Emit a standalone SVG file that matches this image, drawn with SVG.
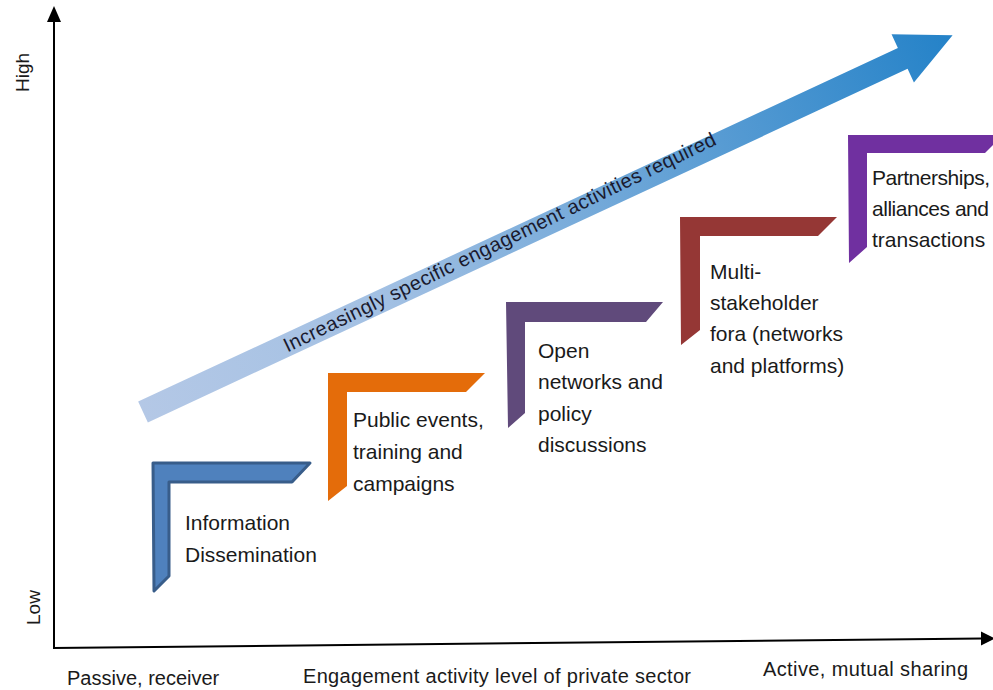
<svg xmlns="http://www.w3.org/2000/svg" width="993" height="690" viewBox="0 0 993 690">
<style>
.lbl{font-family:"Liberation Sans",Arial,sans-serif;font-size:21px;fill:#1a1a1a}
.ax{font-family:"Liberation Sans",Arial,sans-serif;font-size:20px;fill:#1a1a1a}
.axv{font-family:"Liberation Sans",Arial,sans-serif;font-size:19px;fill:#1a1a1a}
.axis{stroke:#000;stroke-width:2;fill:none}
</style>
<defs>
<linearGradient id="g" gradientUnits="userSpaceOnUse" x1="0" y1="0" x2="893" y2="0">
<stop offset="0" stop-color="#b4c8e6"/>
<stop offset="0.3" stop-color="#a2c0e3"/>
<stop offset="1" stop-color="#2482c8"/>
</linearGradient>
</defs>
<rect width="993" height="690" fill="#fff"/>
<g id="axes">
<line class="axis" x1="54" y1="649" x2="54" y2="20"/>
<polygon points="54,6 47,22 61,22" fill="#000"/>
<line class="axis" x1="53" y1="648" x2="982" y2="638.5"/>
<polygon points="995,638.4 981,631.5 981,645.5" fill="#000"/>
<text class="axv" transform="translate(29,92) rotate(-90)">High</text>
<text class="axv" transform="translate(40,625) rotate(-90)">Low</text>
<text class="ax" x="67" y="685">Passive, receiver</text>
<text class="ax" x="303" y="683" textLength="388">Engagement activity level of private sector</text>
<text class="ax" x="763" y="676" textLength="205">Active, mutual sharing</text>
</g>
<g id="trend-arrow" transform="translate(143,412) rotate(-24.96)">
<polygon points="0,-11.5 838,-11.5 838,-26.5 893,0 838,26.5 838,11.5 0,11.5" fill="url(#g)"/>
<text x="156" y="7" font-family="'Liberation Sans',Arial,sans-serif" font-size="20" fill="#1a1a2e" textLength="478" transform="rotate(-0.9 156 7)">Increasingly specific engagement activities required</text>
</g>
<g id="step1">
<polygon points="153,463 310,463 292,482 169,482 169,576 154,591" fill="#4f81bd" stroke="#385d8a" stroke-width="3" stroke-linejoin="round"/>
<text class="lbl" x="185" y="530">Information</text>
<text class="lbl" x="185" y="562">Dissemination</text>
</g>
<g id="step2">
<polygon points="328,373 485,373 466,392 347,392 347,486 328,501" fill="#e46c0a"/>
<text class="lbl" x="353" y="427">Public events,</text>
<text class="lbl" x="353" y="459">training and</text>
<text class="lbl" x="353" y="491">campaigns</text>
</g>
<g id="step3">
<polygon points="506,302 663,302 646,322 525,322 525,413 508,428" fill="#604a7b"/>
<text class="lbl" x="538" y="358">Open</text>
<text class="lbl" x="538" y="389">networks and</text>
<text class="lbl" x="538" y="421">policy</text>
<text class="lbl" x="538" y="452">discussions</text>
</g>
<g id="step4">
<polygon points="680,217 837,217 818,236 700,236 700,330 681,345" fill="#953735"/>
<text class="lbl" x="710" y="279">Multi-</text>
<text class="lbl" x="710" y="310">stakeholder</text>
<text class="lbl" x="710" y="341">fora (networks</text>
<text class="lbl" x="710" y="373">and platforms)</text>
</g>
<g id="step5">
<polygon points="848,135 1003,135 985,153 867,153 867,247 849,263" fill="#7030a0"/>
<text class="lbl" x="872" y="185" textLength="118">Partnerships,</text>
<text class="lbl" x="872" y="216" textLength="117">alliances and</text>
<text class="lbl" x="872" y="247">transactions</text>
</g>
</svg>
